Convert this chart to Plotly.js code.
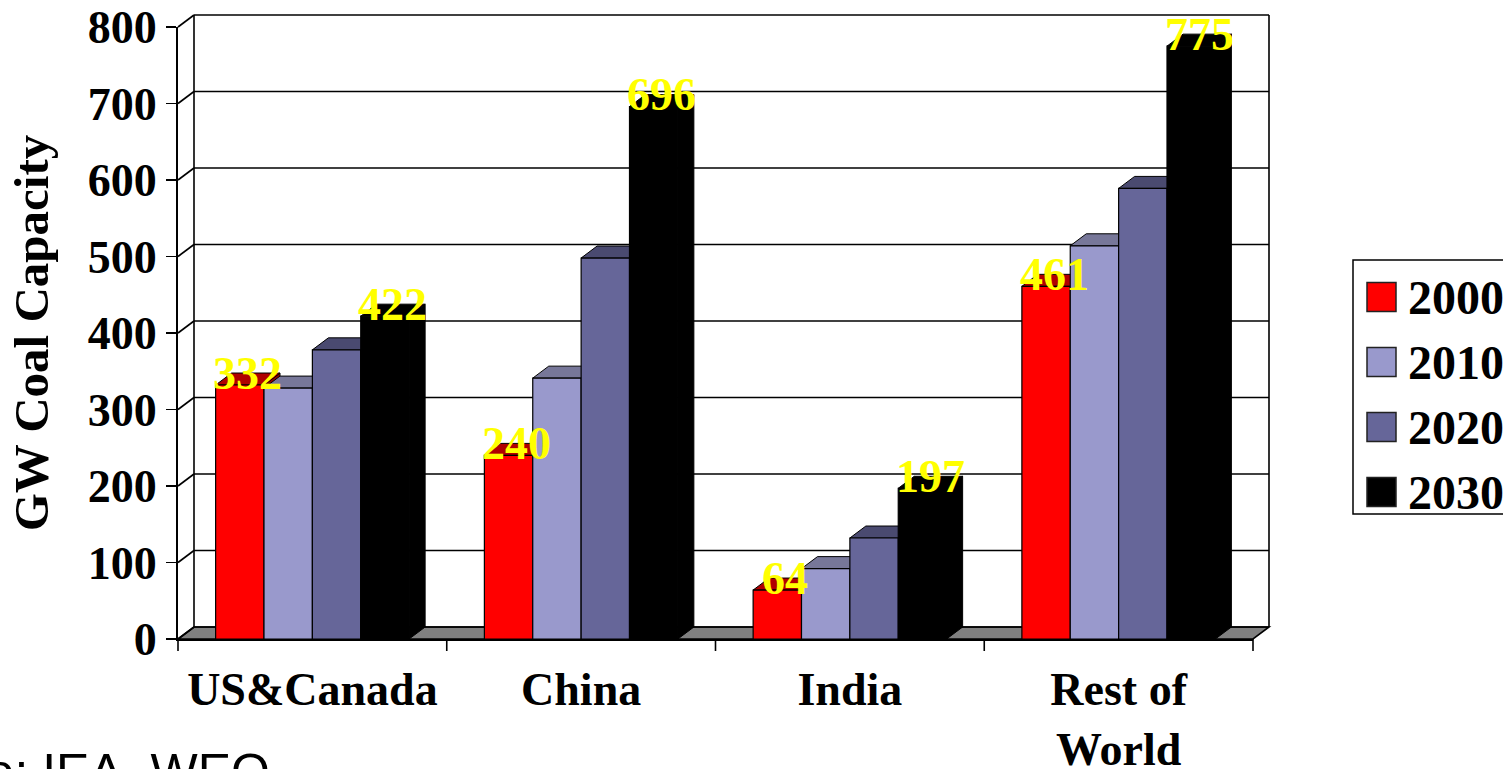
<!DOCTYPE html>
<html>
<head>
<meta charset="utf-8">
<script src="https://cdn.plot.ly/plotly-3.0.1.min.js"></script>
<style>html,body{margin:0;padding:0;background:#fff;overflow:hidden}</style>
</head>
<body>
<div id="chart" style="width:1503px;height:769px"></div>
<script>
// ---- data ----
const categories = ['US&Canada', 'China', 'India', 'Rest of World'];
const categoryLabels = ['US&Canada', 'China', 'India', 'Rest of<br>World'];
const years = ['2000', '2010', '2020', '2030'];
const cap2000 = [332, 240, 64, 461];
const cap2010 = [328, 341, 92, 514];
const cap2020 = [378, 498, 132, 589];
const cap2030 = [422, 696, 197, 775];
const labelledYears = ['2000', '2030'];
const yTickVals = [0, 100, 200, 300, 400, 500, 600, 700, 800];
const yTitle = 'GW Coal Capacity';
const sourceNote = 'Source: IEA, WEO';

// ---- styles / layout constants ----
const series = [cap2000, cap2010, cap2020, cap2030];
const frontColors = ['#FF0000', '#9999CC', '#666699', '#000000'];
const topColors = ['#B00000', '#777799', '#4A4A70', '#000000'];
const sideColors = ['#900000', '#7070A0', '#4A4A70', '#000000'];
const W = 1503, H = 769;
const M = {l: 178, r: 250, t: 27, b: 130};
const plotW = W - M.l - M.r, plotH = H - M.t - M.b;
const xRange = [-0.5, categories.length - 0.5];
const yRange = [0, 800];
const unit = plotW / (xRange[1] - xRange[0]);
const pxPerY = plotH / (yRange[1] - yRange[0]);
const BARGAP = 0.28;
const barW = (1 - BARGAP) / years.length;
const DX = 16, DY = 12;
const serif = 'Liberation Serif, Times New Roman, serif';
const sans = 'Liberation Sans, Arial, sans-serif';
const xIdx = categories.map((c, i) => i);
const offsetOf = s => -(1 - BARGAP) / 2 + barW * (s + 0.5);
const px2paperX = px => (px - M.l) / plotW;
const px2paperY = py => (M.t + plotH - py) / plotH;
// axis-value -> paper fraction (used for the wall/floor frame, which must not be clipped)
const xPaper = x => (x - xRange[0]) / (xRange[1] - xRange[0]);
const yPaper = v => (v - yRange[0]) / (yRange[1] - yRange[0]);

const traces = series.map((vals, s) => ({
  type: 'bar', name: years[s], x: xIdx, y: vals,
  marker: {color: frontColors[s], line: {color: '#000', width: 1.2}},
  showlegend: false, hoverinfo: 'x+y+name'
}));

const shapes = [];
const thin = {color: '#000', width: 1.6};
// floor
shapes.push({type: 'path', layer: 'below', xref: 'paper', yref: 'paper',
  xsizemode: 'pixel', ysizemode: 'pixel', xanchor: 0, yanchor: 0,
  path: `M0,0 L${plotW},0 L${plotW + DX},${DY} L${DX},${DY} Z`,
  fillcolor: '#808080', line: thin});
// back wall gridlines + side wall diagonals
yTickVals.forEach(v => {
  shapes.push({type: 'line', layer: 'below', xref: 'paper', yref: 'paper',
    xsizemode: 'pixel', ysizemode: 'pixel', xanchor: 0, yanchor: yPaper(v),
    x0: DX, x1: plotW + DX, y0: DY, y1: DY, line: thin});
  shapes.push({type: 'line', layer: 'below', xref: 'paper', yref: 'paper',
    xsizemode: 'pixel', ysizemode: 'pixel', xanchor: 0, yanchor: yPaper(v),
    x0: 0, x1: DX, y0: 0, y1: DY, line: thin});
});
// back wall vertical edges
[0, 1].forEach(xa => {
  shapes.push({type: 'line', layer: 'below', xref: 'paper', yref: 'paper',
    xsizemode: 'pixel', ysizemode: 'pixel', xanchor: xa, yanchor: 0,
    x0: DX, x1: DX, y0: DY, y1: plotH + DY, line: thin});
});
// category boundary ticks on the x axis
for (let b = xRange[0]; b <= xRange[1] + 1e-9; b += 1) {
  shapes.push({type: 'line', layer: 'above', xref: 'paper', yref: 'paper',
    ysizemode: 'pixel', yanchor: 0, x0: xPaper(b), x1: xPaper(b), y0: 0, y1: -12,
    line: {color: '#000', width: 1.6}});
}
// 3D faces of bars (drawn beneath the front faces)
xIdx.forEach(c => {
  series.forEach((vals, s) => {
    const v = vals[c];
    const left = c + offsetOf(s) - barW / 2;
    const right = left + barW;
    const bw = barW * unit;
    const h = v * pxPerY;
    shapes.push({type: 'path', layer: 'below', xref: 'x', yref: 'y',
      xsizemode: 'pixel', ysizemode: 'pixel', xanchor: right, yanchor: v,
      path: `M0,0 L${DX},${DY} L${DX},${DY - h} L0,${-h} Z`,
      fillcolor: sideColors[s], line: {color: '#000', width: 1}});
    shapes.push({type: 'path', layer: 'below', xref: 'x', yref: 'y',
      xsizemode: 'pixel', ysizemode: 'pixel', xanchor: left, yanchor: v,
      path: `M0,0 L${bw},0 L${bw + DX},${DY} L${DX},${DY} Z`,
      fillcolor: topColors[s], line: {color: '#000', width: 1}});
  });
});

// custom legend
const legBox = {x0: 1353, x1: 1520, y0: 260, y1: 514};
shapes.push({type: 'rect', layer: 'above', xref: 'paper', yref: 'paper',
  x0: px2paperX(legBox.x0), x1: px2paperX(legBox.x1),
  y0: px2paperY(legBox.y1), y1: px2paperY(legBox.y0),
  fillcolor: 'rgba(255,255,255,0)', line: {color: '#000', width: 1.5}});
const annotations = [];
years.forEach((yr, s) => {
  const cy = 297 + s * 65;
  shapes.push({type: 'rect', layer: 'above', xref: 'paper', yref: 'paper',
    x0: px2paperX(1367), x1: px2paperX(1396),
    y0: px2paperY(cy + 14.5), y1: px2paperY(cy - 14.5),
    fillcolor: frontColors[s], line: {color: '#222', width: 1.5}});
  annotations.push({xref: 'paper', yref: 'paper', x: px2paperX(1406), y: px2paperY(cy),
    xanchor: 'left', yanchor: 'middle', showarrow: false, text: yr,
    font: {family: serif, size: 48, color: '#000', weight: 'bold'}});
});

// value labels
series.forEach((vals, s) => {
  if (!labelledYears.includes(years[s])) return;
  vals.forEach((v, c) => {
    annotations.push({xref: 'x', yref: 'y', x: c + offsetOf(s), y: v,
      xshift: DX / 2, yshift: DY, xanchor: 'center', yanchor: 'middle',
      showarrow: false, text: String(v),
      font: {family: serif, size: 46, color: '#FFFF00', weight: 'bold'}});
  });
});

// source note (cut by the page edge as in the original)
annotations.push({xref: 'paper', yref: 'paper', x: px2paperX(272), y: px2paperY(742),
  xanchor: 'right', yanchor: 'top', showarrow: false, text: sourceNote,
  font: {family: sans, size: 50, color: '#000'}});

const layout = {
  width: W, height: H, margin: M,
  paper_bgcolor: '#fff', plot_bgcolor: 'rgba(0,0,0,0)',
  barmode: 'group', bargap: BARGAP, bargroupgap: 0,
  showlegend: false,
  xaxis: {
    range: xRange, tickmode: 'array', tickvals: xIdx, ticktext: categoryLabels,
    ticks: '', showgrid: false, zeroline: false, showline: true,
    linecolor: '#000', linewidth: 2, automargin: false, ticklabelstandoff: 9,
    tickfont: {family: serif, size: 46, color: '#000', weight: 'bold'}
  },
  yaxis: {
    range: yRange, tickmode: 'array', tickvals: yTickVals,
    ticks: 'outside', ticklen: 10, tickwidth: 1.6, tickcolor: '#000',
    showgrid: false, zeroline: false, showline: true,
    linecolor: '#000', linewidth: 2, automargin: false, ticklabelstandoff: 0,
    tickfont: {family: serif, size: 46, color: '#000', weight: 'bold'},
    title: {text: yTitle, standoff: 24,
      font: {family: serif, size: 49, color: '#000', weight: 'bold'}}
  },
  shapes: shapes,
  annotations: annotations
};

Plotly.newPlot('chart', traces, layout, {displayModeBar: false, staticPlot: true});
</script>
</body>
</html>
